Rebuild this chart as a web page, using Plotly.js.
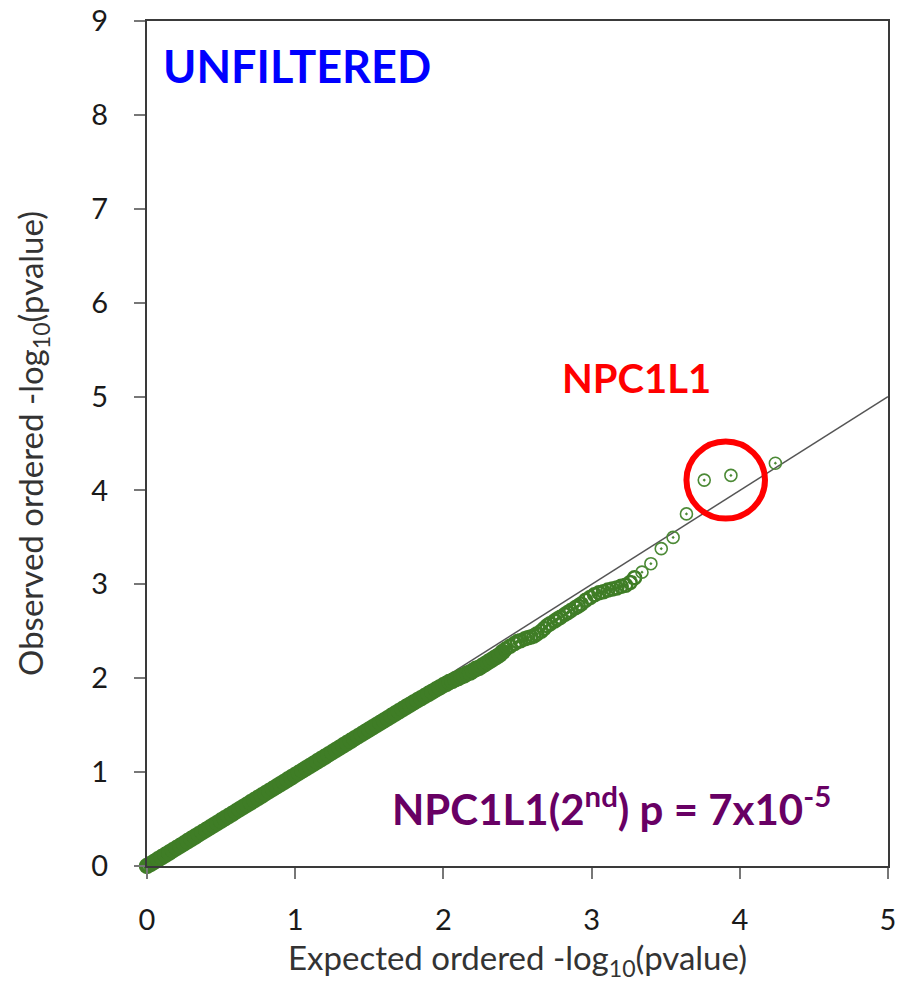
<!DOCTYPE html>
<html>
<head>
<meta charset="utf-8">
<script src="https://cdn.plot.ly/plotly-3.0.1.min.js"></script>
<style>html,body{margin:0;padding:0;background:#fff;}#chart{width:898px;height:988px;}</style>
</head>
<body>
<div id="chart"></div>
<script>
// Expected ordered -log10(p) (x) and observed ordered -log10(p) (y)
// dense part of the band
const expectedDense = [0.000,0.025,0.050,0.075,0.100,0.125,0.150,0.175,0.200,0.225,0.250,0.275,0.300,0.325,0.350,0.375,0.400,0.425,0.450,0.475,0.500,0.525,0.550,0.575,0.600,0.625,0.650,0.675,0.700,0.725,0.750,0.775,0.800,0.825,0.850,0.875,0.900,0.925,0.950,0.975,1.000,1.025,1.050,1.075,1.100,1.125,1.150,1.175,1.200,1.225,1.250,1.275,1.300,1.325,1.350,1.375,1.400,1.425,1.450,1.475,1.500,1.525,1.550,1.575,1.600,1.625,1.650,1.675,1.700,1.725,1.750,1.775,1.800,1.825,1.850,1.875,1.900,1.925,1.950,1.975,2.000,
  2.02,2.04,2.06,2.08,2.10,2.12,2.14,2.16,2.18,2.20,2.22,2.24,2.26,2.28,2.30,2.32,2.34,2.36,2.38,2.40];
const observedDense = [0.000,0.022,0.046,0.071,0.095,0.119,0.143,0.168,0.192,0.216,0.240,0.265,0.289,0.313,0.338,0.362,0.386,0.410,0.435,0.459,0.484,0.508,0.532,0.556,0.580,0.605,0.629,0.653,0.678,0.702,0.726,0.750,0.775,0.799,0.823,0.847,0.872,0.896,0.920,0.944,0.969,0.993,1.017,1.042,1.066,1.090,1.115,1.139,1.163,1.188,1.212,1.236,1.260,1.285,1.309,1.333,1.358,1.382,1.406,1.431,1.455,1.479,1.503,1.527,1.551,1.575,1.599,1.623,1.647,1.671,1.695,1.718,1.742,1.765,1.788,1.811,1.834,1.857,1.880,1.902,1.925,
  1.94,1.96,1.97,1.99,2.00,2.02,2.03,2.05,2.06,2.08,2.10,2.11,2.13,2.15,2.17,2.19,2.21,2.23,2.25,2.28];
// thinner part of the band
const expectedMid = [2.42,2.45,2.48,2.50,2.52,2.55,2.57,2.59,2.61,2.63,2.66,2.68,2.70,2.72,2.75,2.77,2.79,2.82,2.84,2.86,2.89,2.91,2.93,2.96,2.99,3.02,3.05,3.08,3.11,3.14,3.17,3.20,3.23,3.26,3.29];
const observedMid = [2.31,2.34,2.37,2.39,2.40,2.42,2.43,2.44,2.45,2.47,2.50,2.53,2.56,2.58,2.61,2.63,2.65,2.68,2.70,2.72,2.75,2.77,2.79,2.83,2.86,2.89,2.91,2.92,2.94,2.95,2.96,2.98,2.99,3.02,3.07];
// top, individually visible points
const expectedTop = [3.34,3.40,3.47,3.55,3.64,3.76,3.94,4.24];
const observedTop = [3.13,3.22,3.38,3.50,3.75,4.11,4.16,4.29];
// y = x reference line
const refX = [0, 5];
const refY = [0, 5];
const xTicks = [0,1,2,3,4,5];
const yTicks = [0,1,2,3,4,5,6,7,8,9];

const green = '#3f7d26';
const font = 'Lato, "Open Sans", sans-serif';

const traces = [
  {x: refX, y: refY, type: 'scatter', mode: 'lines', hoverinfo: 'skip',
   line: {color: '#555555', width: 1.5}},
  {x: expectedDense, y: observedDense,
   type: 'scatter', mode: 'markers', cliponaxis: false, hoverinfo: 'skip',
   marker: {symbol: 'circle-open', size: 12, color: green, line: {width: 4.5, color: green}}},
  {x: expectedMid, y: observedMid,
   type: 'scatter', mode: 'markers', cliponaxis: false, hoverinfo: 'skip',
   marker: {symbol: 'circle-open-dot', size: 13, color: green, line: {width: 2.5, color: green}}},
  {x: expectedTop, y: observedTop,
   type: 'scatter', mode: 'markers', cliponaxis: false, hoverinfo: 'skip',
   marker: {symbol: 'circle-open-dot', size: 12, color: '#4c8a36', line: {width: 1.6, color: '#4c8a36'}}}
];

const axisCommon = {
  showgrid: false, zeroline: false, showline: true, mirror: true,
  linecolor: '#3a3a3a', linewidth: 2,
  ticks: 'outside', ticklen: 11, tickwidth: 2, tickcolor: '#777777',
  tickfont: {family: font, size: 29, color: '#1a1a1a'},
  tickmode: 'array'
};

const layout = {
  width: 898, height: 988,
  margin: {l: 147, r: 10, t: 21, b: 122},
  paper_bgcolor: '#ffffff', plot_bgcolor: '#ffffff',
  showlegend: false,
  font: {family: font},
  xaxis: Object.assign({}, axisCommon, {
    range: [0, 5], tickvals: xTicks, ticktext: xTicks.map(String),
    ticklabelstandoff: 16,
    title: {text: 'Expected ordered -log<sub>10</sub>(pvalue)', font: {family: font, size: 33, color: '#333333'}, standoff: 12}
  }),
  yaxis: Object.assign({}, axisCommon, {
    range: [0, 9], tickvals: yTicks, ticktext: yTicks.map(String),
    ticklabelstandoff: 20,
    title: {text: 'Observed ordered -log<sub>10</sub>(pvalue)', font: {family: font, size: 33, color: '#333333'}, standoff: 38}
  }),
  shapes: [
    {type: 'circle', xref: 'x', yref: 'y', x0: 3.64, x1: 4.17, y0: 3.70, y1: 4.52,
     line: {color: '#ff0000', width: 6}}
  ],
  annotations: [
    {text: '<b>UNFILTERED</b>', xref: 'x', yref: 'y', x: 0.095, y: 8.52, xanchor: 'left', yanchor: 'middle',
     showarrow: false, font: {family: font, size: 45, color: '#0000ff'}},
    {text: '<b>NPC1L1</b>', xref: 'x', yref: 'y', x: 3.30, y: 5.2, xanchor: 'center', yanchor: 'middle',
     showarrow: false, font: {family: font, size: 40, color: '#ff0000'}},
    {text: '<b>NPC1L1(2<sup>nd</sup>) p = 7x10<sup>-5</sup></b>', xref: 'x', yref: 'y', x: 1.64, y: 0.64, xanchor: 'left', yanchor: 'middle',
     showarrow: false, font: {family: font, size: 42, color: '#680064'}}
  ]
};

Plotly.newPlot('chart', traces, layout, {staticPlot: true, displayModeBar: false});
</script>
</body>
</html>
